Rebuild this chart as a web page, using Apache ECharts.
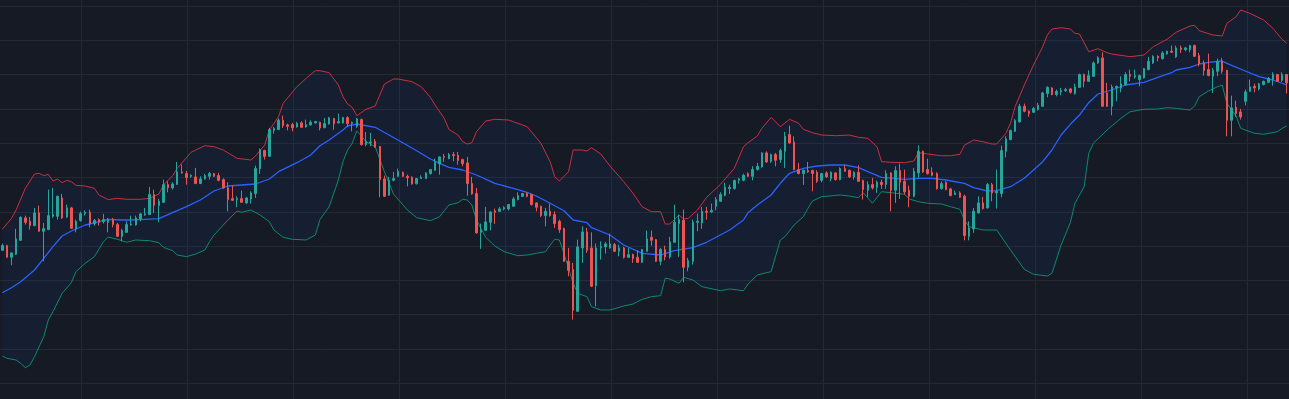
<!DOCTYPE html>
<html><head><meta charset="utf-8">
<script src="https://cdn.jsdelivr.net/npm/echarts@6/dist/echarts.min.js"></script>
<style>html,body{margin:0;padding:0;background:#161a25;overflow:hidden}#c{width:1289px;height:399px}</style>
</head><body><div id="c"></div>
<script>
// candles: [open, close, low, high]
const candles = [
[167.3,172,167,174],[172,160.3,160,172.7],[160.3,164.7,152.3,165],[163.3,178.7,162.7,188.7],[177.3,200.3,176.7,201.3],
[199.7,195.3,193,202],[196.3,192,188,200.7],[192,204.7,191.3,209.7],[204.7,186.3,186,212],[186.3,189,156.3,194.7],
[188,202,187.5,228],[201.3,203,199.7,229.7],[201.3,221.3,198,222],[219.7,199.7,198.7,223.7],[200.7,209.7,199.7,213],
[209.7,189.3,188.7,210.7],[188.7,196.3,185.3,198],[197,204,196,206],[204,205.3,202,207.3],[205.3,194,190.3,208],
[194,197.3,192,198.7],[198,195.3,192,199.3],[196,198,194,203.7],[195.3,198,185.3,199.7],[198,193,190.3,199.7],
[193,181.3,180.7,194.7],[181.3,187,176.3,188.7],[185.3,193,184.7,196.3],[192.7,193.7,192,202],[192.7,199.7,192,202],
[198.7,203.7,196.3,204.7],[202.7,203.7,202,209.7],[203,223,203,230.7],[223,212.3,204.7,228],[212,216.3,195.3,218.7],
[215.3,233,214.7,238],[233,229.7,225.3,236.3],[229.7,233.7,228,235.3],[233,245.7,233,255.7],[245.7,244.7,244,253],
[244,240,233,246.7],[241.3,242.3,239.7,243.3],[240.7,234,234,249.7],[234,238.7,234,241.3],[238.7,242,238,243.7],
[241.3,244,238,245.7],[244,241.3,240.7,244.7],[242,237.3,236.3,244.7],[238,229.7,228.7,239.3],[229.7,218,206.3,235.3],
[219,217.3,216.7,232],[218,219,210.3,221.3],[219,215.3,214.7,227],[214.7,219.7,213.7,220.7],[218.7,224.7,214,226.3],
[224,249,219.7,252],[248.7,268,243.7,269],[267,261.3,258,268],[261.3,288,261,289.7],[287.3,289,284,290.7],
[288,297.3,287.7,299],[297.3,292,289.7,302],[292.7,291.3,287.3,294],[293,289.7,286.3,294.7],[290.7,294,290,295.7],
[294.7,290.3,290,296.3],[290.7,293,290,298],[292.7,295.3,292,297.3],[294.7,296,294,296.7],[295.3,289.7,287.3,296],
[290,294,289.3,299.7],[293.7,299.7,293,300.7],[299,293.7,288,299.7],[294.7,296,294,304],[294.7,300,294,300.7],
[300,294,290.7,301.3],[294.3,295.3,286.3,296],[291.3,298.7,289.7,299.7],[298,273,272,299],[273,276.3,271.3,285.7],
[274.7,275.7,271.3,284.7],[276.3,270.7,269.7,278.7],[271.3,238,220.3,271.3],[238.7,221.3,220.7,242],[222.3,237,222,240.7],
[237.3,239,236.3,245.7],[241.3,246.3,240.7,249],[245.3,241.3,240.7,246],[241.3,239.7,231.3,243],[240.3,233.7,233,241.3],
[234,239,233,239.7],[239,240.3,238.7,242.3],[239,244.7,238.7,245.3],[244,248,243,248.7],[247.3,255.3,246.7,259],
[253.7,260.7,243,261.3],[261.3,260.3,255.7,263.7],[259,263,258.3,264.7],[263,262,256.3,265.7],[262.3,257,253,265.7],
[258,254,251.3,259],[254.7,234,222,260.7],[234,223.7,223,240.7],[224,184.7,184,229.7],[185.3,187.3,168.7,194],
[187.3,195.7,186.7,210.7],[195.3,205.7,187.3,206.3],[206.7,205.3,193.7,209],[206.3,208.7,205.7,210.7],[208.7,210,207.3,211.3],
[208.7,213,207.3,213.7],[211.3,218.7,210.7,220.7],[218,222,217.3,225.3],[221.3,224,220.7,224.7],[224,221.3,220.3,225.3],
[223,213,212,223.7],[214.7,210.3,206.3,215.3],[211.3,202,200.7,212],[202,206.3,191.3,209.7],[206.3,202,201,214],
[203,194,189.7,206.3],[196.3,188,184.7,198],[189,156.3,155.7,190],[156.3,147.3,141.3,169.7],[148,107.3,98,154.7],
[106.3,170.7,105.7,178],[169.7,185.7,154.7,191.3],[185.7,167.3,164.7,189.7],[169.7,131.3,130.7,185.3],[132,169.7,111.3,174],
[169.7,171.3,158,176.3],[170.7,173.7,164,175.7],[169.7,173.7,169,184],[173,166.3,165.7,174.7],[166.3,169.7,161.3,173],
[169.7,160.3,159,170.7],[160.3,163,159.7,169.7],[163,159,154.7,164],[160.3,155.3,154.7,167.3],[155.3,168,154.7,168.7],
[166.3,178.7,165.7,187],[180.3,177.3,172,187],[178,156.3,155.7,178.7],[156.3,168,152.3,169.7],[168,160.7,157.3,172],
[160.7,175.7,159,180.7],[175.3,195.3,174.7,213],[194,198,160.7,203],[197.3,150.3,135.3,208],[150.3,157,146.3,159.7],
[156.3,195.3,153,198],[195.3,196.3,186.3,204],[194.7,206.3,188.7,210.7],[206.3,205.3,198,210.7],[205.7,207.3,204.7,214],
[211.3,218,207.3,220.7],[216.3,223,215.7,225.3],[222.3,230.3,221.3,234.7],[229,230.3,223.7,233],[229,237,228,238],
[237.3,238.7,234,239.7],[237.3,242.3,236.3,244],[244,241.3,240.7,245.3],[241.3,248,237.3,251.3],[248,251.3,247.3,254.7],
[250.7,264.7,250,265.3],[264.7,255.7,254.7,266.3],[256.3,263,254.7,264],[263,257.3,251.3,264.7],[258,267,254.7,269],
[266.3,281.3,249.7,285.7],[283,274.7,274,292],[275.7,248,247.3,281.3],[248,244,243.3,254.7],[244,247.3,232.7,248],
[247,245.7,244.7,255.7],[247,244,226.3,248],[245.3,236.3,234.7,247.3],[237.3,244,235.3,244.7],[244.7,240.7,239.7,246.3],
[239,245.3,236.3,246.3],[244.7,238,237,245.3],[238,249,237.3,250.3],[249,246.3,245.7,252.3],[247.3,240.7,239.7,248],
[240.7,245.3,238,246.3],[245.3,236.3,235.7,252.3],[237,228,218,238],[227.3,233,220.7,236.3],[233,229.7,228,239.7],
[230.3,235.3,224.7,237],[235.3,233,228.7,238],[233,244,228.7,247.3],[244.7,227.3,206.3,245.3],[227.3,247,214.7,251.3],
[247,235.3,218.7,254],[236.3,225.7,223,248],[227.3,221.3,210.3,232],[221.3,246.3,220.3,249.7],[244.7,266.3,239.7,272.3],
[266.3,245.7,244.7,267],[248,244,243,259],[245.3,242.3,241.3,250.3],[244,229,228,245.3],[229,234,228,236.3],
[235.3,228,227.3,236.3],[228.7,222,221.3,229.7],[223,224.7,222.7,227],[224.7,220.3,219.7,226.3],[221.3,182,177.3,223],
[181.3,189.7,177.3,196.3],[188.7,206.3,184.7,209.7],[204.7,214.7,204,221.3],[214.7,209,208,220.7],[209.7,233,209,234.7],
[233,224.7,216.3,234.7],[224.7,226.3,209,248],[224,267,220.3,272],[266.3,278.7,260.3,281.3],[278,287,277.3,288],
[286.3,297,285.7,298.7],[295.7,311.3,295,313.7],[311.3,306.3,305.3,314],[306.3,304,300.7,307.3],[305.3,309,304.7,310.7],
[308,312.3,307,314.7],[311.3,324.7,310.7,325.7],[324,330.3,320.3,331.3],[329.7,323,322.3,330.3],[323,326.3,321.3,328],
[325.7,327,322.3,329.7],[327,328,325.7,329.7],[328.7,325.3,324,329.7],[324,330.7,323,334],[330.3,343,329.7,344],
[343,336.3,330.3,344],[336.3,342,335.7,347.3],[341.3,354.7,340.7,356.3],[354.7,359.7,353.7,361.3],[359.7,311.3,310.7,365.3],
[324.7,311.3,310.7,334.7],[311.3,330.7,302.3,333],[330,331.3,316.3,332],[329.7,333.7,325.3,341.3],[333,343,332,345.3],
[343,341.3,336.3,348],[340.7,342,339,348],[338,342,331.3,343],[339.7,349,339,349.7],[348,356.3,347.3,360.7],
[354.7,361.3,353.7,362.3],[361.3,359.7,356.3,362.3],[359,364.7,358,366.3],[363.7,366.3,363,367],[366.3,365.3,364.7,372],
[360.7,369.7,359.7,372],[369.7,368,364.7,372],[368,369.7,366.3,370.7],[368,372,365.3,372.7],[372,361.3,360.7,373],
[362,353.7,351.3,364.7],[354.7,347,342,357],[348,342,341.3,364],[341.3,347.3,324.7,349.7],[346.3,356.3,341.3,359],
[356.3,346.3,344,359.7],[347.3,297.3,281.3,347.7],[297.3,309.7,281.3,322],[310.3,304,300.7,317],[305.7,300.7,298,308.7],
[316.3,325.7,312.3,328],[326.3,330.7,325.7,338],[331.3,329.7,325.3,334],[328.7,333.7,327.3,334.7],[333,336.3,332.3,337],
[335.3,339,334.7,340.7],[338,343,332,345.3],[343,336.3,335.7,343.7],[337.3,343,335.7,345.3],[343,334.7,324,343.7]
];

// Bollinger bands: [candle index, value]
const upperBand = [
[0,188.3],[2,199.3],[3,207.6],[5,229.3],[7,243.6],[8,244.3],[9,241.9],[10,243.3],[11,236.6],[12,238.6],[13,234.9],[14,237.3],[15,235.9],[16,232.3],[18,231.6],[20,229.3],[21,222.6],[23,218],[25,219.3],[27,218.3],[30,218.3],[32,219.3],[34,223.6],[35,232.6],[37,241.9],[38,249.3],[41,265.3],[42,267.6],[44,271.9],[46,270.9],[48,267.6],[51,259.3],[54,257.6],[55,261.6],[57,272.6],[58,287.6],[60,300.9],[61,314.3],[64,330.9],[66,339.3],[68,346.9],[69,346.9],[71,344.9],[73,332.6],[74,320.9],[75,313.6],[76,310.3],[77,301.9],[79,308.3],[81,311.6],[82,322.6],[83,333.6],[85,338.6],[86,338.6],[89,335.9],[91,330.9],[93,320.3],[94,312.6],[96,299.3],[97,288.3],[99,282.6],[100,275.9],[101,273.6],[102,274.9],[103,285.9],[105,296.6],[107,298.3],[110,297.6],[111,295.9],[114,290.9],[116,279.9],[117,274.3],[119,255.9],[120,240.9],[121,236.6],[123,245.9],[124,267.6],[126,267.6],[127,266.6],[128,269.9],[130,263.6],[132,251.6],[135,235.9],[137,224.3],[139,210.9],[141,205.9],[143,205.9],[144,193.6],[145,193.6],[147,202.6],[148,198.6],[149,199.3],[151,207.6],[153,220.3],[156,233.3],[159,249.3],[161,270.9],[162,275],[164,281.6],[165,289.3],[167,300.3],[169,290.9],[171,298.3],[173,294.3],[174,288.3],[176,284.9],[178,282.6],[181,281.9],[184,282.6],[186,280.3],[188,279.3],[190,270.9],[191,255.9],[193,255.3],[196,254.9],[198,256.6],[199,264.9],[201,263.6],[204,261.9],[206,261.9],[208,263.3],[209,272.5],[211,277.6],[213,275.9],[215,273.6],[216,273.6],[218,284.3],[219,294.3],[220,310.9],[222,332.6],[224,352.6],[226,370.9],[227,382.6],[228,388.6],[230,389.9],[232,388.6],[233,384.3],[234,383.6],[236,365.9],[238,368.9],[240,364.9],[241,363.6],[245,360.9],[248,362.6],[250,370.9],[253,378.3],[255,385.4],[258,391.6],[259,392.3],[260,386.9],[263,382.6],[265,381.6],[266,394.3],[268,400.9],[269,407.6],[271,404.3],[274,397.6],[276,389.3],[278,378.3],[279,374.3]
];
const middleBand = [
[0,124.9],[2,129.9],[4,135.9],[7,147.6],[9,159.3],[11,170.9],[13,181.6],[15,186.6],[18,192.6],[19,193.6],[21,195.9],[23,198.3],[26,197.6],[28,197.6],[31,198.3],[34,198.9],[37,204.9],[40,210.9],[43,217.6],[46,226.6],[49,231.6],[52,232.6],[55,233.6],[58,238.6],[60,245.9],[64,254.9],[67,262.6],[69,271.9],[71,277.6],[74,287.6],[75,291.6],[77,293.6],[81,290.3],[84,282.6],[87,274.9],[90,266.9],[93,258.6],[95,254.3],[97,250.3],[100,247.6],[103,242.6],[107,234.3],[111,229.3],[114,225.3],[116,221.6],[119,214.3],[122,206.9],[124,197.6],[127,194.9],[128,189.9],[132,182.6],[135,172.6],[139,164.3],[143,162.6],[146,166.9],[150,169.9],[153,175.3],[158,187.6],[161,197.6],[162,204.9],[164,212.6],[167,222.6],[169,234.3],[171,244.3],[174,249.3],[177,251.6],[180,252.6],[183,252.6],[186,249.9],[188,245.9],[191,240.3],[194,239.3],[196,238.3],[199,239.3],[202,239.3],[205,237.6],[209,234.3],[211,229.9],[214,226.6],[216,226.9],[219,230.9],[222,239.3],[224,247.6],[226,255.9],[228,267.6],[230,282.6],[232,293.3],[234,302.6],[236,314.9],[238,323.6],[241,327.6],[244,332.6],[248,335.3],[251,340.3],[254,344.9],[255,347.6],[258,350.3],[260,353.6],[262,355.3],[265,356.6],[266,354.3],[270,346.6],[273,340.9],[276,337.6],[279,332.6]
];
const lowerBand = [
[0,61.6],[1,59.3],[3,57.6],[4,54.3],[5,49.9],[6,52.6],[7,60.9],[9,80.9],[10,97.6],[11,105.9],[13,124.3],[15,134.9],[16,145.9],[18,154.3],[20,160.9],[22,176],[23,180.5],[25,178.3],[27,175.3],[29,177.6],[32,176.9],[34,174.9],[35,170.3],[37,166.9],[38,162.6],[40,160.9],[42,163.6],[44,167.6],[45,175.9],[46,182.6],[49,197.6],[51,206.6],[52,205.3],[54,207.6],[56,202.6],[58,195.9],[59,187.6],[61,180.3],[63,178.3],[66,177.6],[68,182.6],[69,198],[71,210.9],[73,237.6],[74,255.9],[75,267.6],[76,274.3],[77,286.6],[78,281.6],[79,275.9],[81,270.9],[83,245.9],[85,223.3],[88,207.6],[90,199.9],[93,196.9],[95,200.9],[96,206.9],[97,212.6],[99,214.9],[100,218.3],[101,217.6],[102,212.6],[103,197.6],[105,180.3],[107,171.6],[109,165.9],[112,161.9],[114,162.6],[116,164.3],[118,165.9],[119,172.6],[120,178.3],[121,177.6],[122,164.3],[124,134.3],[125,124.3],[127,120.9],[128,110.9],[130,107.6],[132,107.6],[135,111.6],[137,113.6],[139,118.3],[141,120.9],[143,121.9],[144,139.3],[145,138.6],[147,134.3],[148,140.3],[150,137.6],[152,130.9],[156,126.9],[158,128.6],[161,126.9],[162,133.6],[164,142.6],[166,144.9],[167,145.9],[169,177.6],[170,180.9],[172,192.6],[174,200.9],[175,209.3],[176,216.6],[178,220.9],[182,222.6],[184,221.6],[186,219.9],[187,224.9],[189,214.3],[191,225.9],[193,224.9],[196,223.3],[197,218.6],[199,215.9],[201,214.3],[204,213.6],[206,210.9],[208,208.3],[209,197.6],[210,190.9],[213,187.6],[216,187.6],[219,167.6],[222,148.3],[224,143.3],[227,141.6],[228,144.3],[230,172.6],[232,195],[233,214.3],[235,230.9],[236,264.3],[237,274.3],[240,287.6],[241,291.6],[243,299.3],[245,305.9],[248,308.3],[251,308.6],[253,309.9],[255,309.3],[258,307.6],[259,311.6],[260,320.9],[262,326.6],[264,330.9],[265,332.6],[266,314.3],[268,301.6],[269,289.3],[272,284.3],[274,283.3],[277,285.9],[278,289.3],[279,291.6]
];
const categories = candles.map((_, i) => String(i + 1));

const GRID_COLOR = '#242936';
const chart = echarts.init(document.getElementById('c'), null, {renderer: 'canvas'});
chart.setOption({
  animation: false,
  backgroundColor: '#161a25',
  grid: [
    {left: 0, top: 6, width: 1289, height: 411.6, containLabel: false, outerBoundsMode: 'none'},
    {left: -24.7, top: 0, width: 1378, height: 399, containLabel: false, outerBoundsMode: 'none'}
  ],
  xAxis: [
    {type: 'category', data: categories, boundaryGap: true, gridIndex: 0,
     axisLine: {show: false}, axisTick: {show: false}, axisLabel: {show: false}, splitLine: {show: false}},
    {type: 'value', gridIndex: 1, min: 0, max: 13, interval: 1,
     axisLine: {show: false}, axisTick: {show: false}, axisLabel: {show: false},
     splitLine: {show: true, lineStyle: {color: GRID_COLOR, width: 1}}}
  ],
  yAxis: [
    {type: 'value', gridIndex: 0, min: 0, max: 411.6, interval: 34.3, scale: false,
     axisLine: {show: false}, axisTick: {show: false}, axisLabel: {show: false},
     splitLine: {show: true, lineStyle: {color: GRID_COLOR, width: 1}}},
    {type: 'value', gridIndex: 1, min: 0, max: 1, show: false, splitLine: {show: false}}
  ],
  series: [
    {
      type: 'custom', xAxisIndex: 0, yAxisIndex: 0, z: 1, silent: true,
      data: [[0, 0]],
      renderItem: function (params, api) {
        const pts = upperBand.map(p => api.coord(p))
          .concat(lowerBand.slice().reverse().map(p => api.coord(p)));
        return {type: 'polygon', shape: {points: pts}, style: {fill: 'rgba(41,98,255,0.06)'}};
      }
    },
    {type: 'line', name: 'Upper', data: upperBand, showSymbol: false, symbol: 'none', z: 2,
     lineStyle: {color: '#c9303f', width: 1}},
    {type: 'line', name: 'Lower', data: lowerBand, showSymbol: false, symbol: 'none', z: 2,
     lineStyle: {color: '#0c8a6c', width: 1}},
    {type: 'line', name: 'Middle', data: middleBand, showSymbol: false, symbol: 'none', z: 2,
     lineStyle: {color: '#2962ff', width: 1.3}},
    {type: 'candlestick', name: 'Price', data: candles, z: 3, barWidth: 2,
     itemStyle: {color: '#26a69a', color0: '#ef5350', borderColor: '#26a69a', borderColor0: '#ef5350', borderWidth: 1}}
  ]
});
</script>
</body></html>
